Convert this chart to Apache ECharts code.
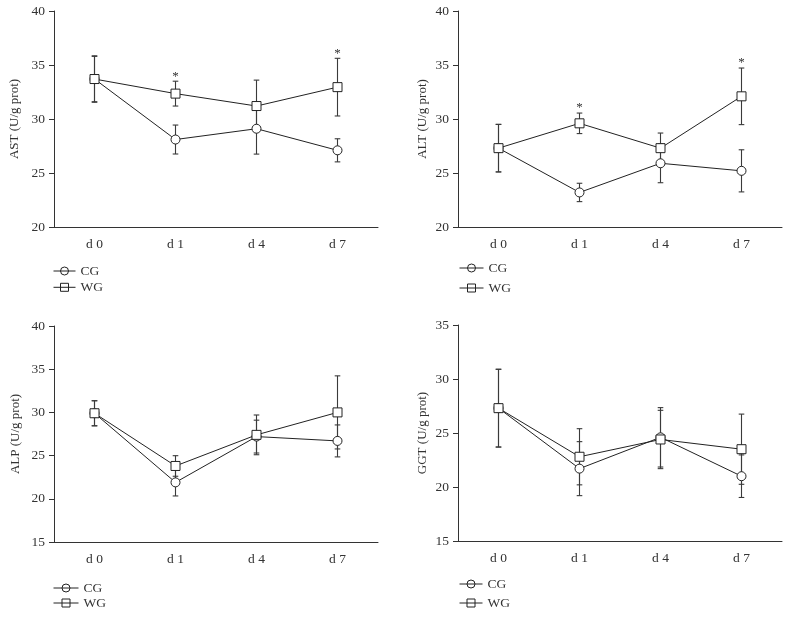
<!DOCTYPE html>
<html><head><meta charset="utf-8">
<script src="https://cdn.jsdelivr.net/npm/echarts@6/dist/echarts.min.js"></script>
<style>html,body{margin:0;padding:0;background:#fff}#c{width:791px;height:617px}</style>
</head><body><div id="c"></div>
<script>
// ---- data ----
const categories = ['d 0', 'd 1', 'd 4', 'd 7'];
const groupNames = ['CG', 'WG'];

const astCG = [33.7, 28.1, 29.1, 27.1];
const astCGErr = [2.1, 1.34, 2.35, 1.07];
const astWG = [33.7, 32.35, 31.2, 32.95];
const astWGErr = [2.15, 1.15, 2.4, 2.67];
const astSig = [0, 1, 0, 1];

const altCG = [27.3, 23.2, 25.9, 25.2];
const altCGErr = [2.2, 0.85, 1.8, 1.95];
const altWG = [27.3, 29.6, 27.3, 32.1];
const altWGErr = [2.2, 0.95, 1.4, 2.62];
const altSig = [0, 1, 0, 1];

const alpCG = [29.9, 21.9, 27.2, 26.7];
const alpCGErr = [1.45, 1.57, 1.9, 1.85];
const alpWG = [29.9, 23.8, 27.4, 30.0];
const alpWGErr = [1.45, 1.19, 2.3, 4.23];
const alpSig = [0, 0, 0, 0];

const ggtCG = [27.3, 21.7, 24.6, 21.0];
const ggtCGErr = [3.6, 2.5, 2.75, 1.97];
const ggtWG = [27.3, 22.8, 24.4, 23.5];
const ggtWGErr = [3.6, 2.6, 2.7, 3.25];
const ggtSig = [0, 0, 0, 0];

const yTitles = ['AST (U/g prot)', 'ALT (U/g prot)', 'ALP (U/g prot)', 'GGT (U/g prot)'];
const yMins = [20, 20, 15, 15];
const yMaxs = [40, 40, 40, 35];

const panels = [
  {cg: astCG, cgE: astCGErr, wg: astWG, wgE: astWGErr, sig: astSig},
  {cg: altCG, cgE: altCGErr, wg: altWG, wgE: altWGErr, sig: altSig},
  {cg: alpCG, cgE: alpCGErr, wg: alpWG, wgE: alpWGErr, sig: alpSig},
  {cg: ggtCG, cgE: ggtCGErr, wg: ggtWG, wgE: ggtWGErr, sig: ggtSig}
];

// ---- layout / style ----
const FONT = 'Liberation Serif';
const TXT = '#333';
const AX = '#333';
const grids = [
  {left: 54, top: 11, width: 324, height: 216},
  {left: 458, top: 11, width: 324, height: 216},
  {left: 54, top: 326, width: 324, height: 216},
  {left: 458, top: 325, width: 324, height: 216}
];
const nameGaps = [33, 29, 32, 29];
const legendPos = [
  {left: 53, top: 264, itemGap: 2.3, itemWidth: 22},
  {left: 459, top: 261, itemGap: 6, itemWidth: 24},
  {left: 53, top: 581, itemGap: 1, itemWidth: 25},
  {left: 459, top: 577, itemGap: 5, itemWidth: 23}
];

function errRender(params, api) {
  const x = api.value(0), v = api.value(1), e = api.value(2);
  const hi = api.coord([x, v + e]);
  const lo = api.coord([x, v - e]);
  const cap = 2.8;
  const style = {stroke: '#3a3a3a', lineWidth: 1.1};
  return {type: 'group', children: [
    {type: 'line', shape: {x1: hi[0], y1: hi[1], x2: lo[0], y2: lo[1]}, style: style},
    {type: 'line', shape: {x1: hi[0] - cap, y1: hi[1], x2: hi[0] + cap, y2: hi[1]}, style: style},
    {type: 'line', shape: {x1: lo[0] - cap, y1: lo[1], x2: lo[0] + cap, y2: lo[1]}, style: style}
  ]};
}
function starRender(params, api) {
  const p = api.coord([api.value(0), api.value(1)]);
  return {type: 'text', x: p[0], y: p[1] - 5,
    style: {text: '*', fill: TXT, font: '13px "' + FONT + '"', textAlign: 'center', textVerticalAlign: 'middle'}};
}

const xAxes = [], yAxes = [], series = [], legends = [];
panels.forEach(function (pn, i) {
  xAxes.push({
    type: 'category', gridIndex: i, data: categories, boundaryGap: true,
    axisLine: {lineStyle: {color: AX, width: 1}},
    axisTick: {alignWithLabel: true, length: 6, lineStyle: {color: AX}},
    axisLabel: {color: TXT, fontFamily: FONT, fontSize: 13.5, margin: 10},
    splitLine: {show: false}
  });
  yAxes.push({
    type: 'value', gridIndex: i, min: yMins[i], max: yMaxs[i], interval: 5,
    name: yTitles[i], nameLocation: 'middle', nameGap: nameGaps[i],
    nameTextStyle: {color: TXT, fontFamily: FONT, fontSize: 13},
    axisLine: {show: true, lineStyle: {color: AX, width: 1}},
    axisTick: {show: true, length: 5, lineStyle: {color: AX}},
    axisLabel: {color: TXT, fontFamily: FONT, fontSize: 13.5, margin: 9},
    splitLine: {show: false}
  });
  const groups = [[pn.cg, pn.cgE, 'circle'], [pn.wg, pn.wgE, 'rect']];
  groups.forEach(function (g, k) {
    series.push({
      type: 'custom', name: groupNames[k] + ' err ' + i, xAxisIndex: i, yAxisIndex: i,
      renderItem: errRender, z: 1, silent: true,
      encode: {x: 0, y: 1},
      data: g[0].map(function (v, j) { return [j, v, g[1][j]]; })
    });
  });
  groups.forEach(function (g, k) {
    series.push({
      type: 'line', name: groupNames[k], xAxisIndex: i, yAxisIndex: i, z: 3,
      data: g[0], symbol: g[2], symbolSize: 9, showAllSymbol: true,
      lineStyle: {color: '#222', width: 1},
      itemStyle: {color: '#fff', borderColor: '#222', borderWidth: 1},
      emphasis: {disabled: true}, animation: false
    });
  });
  const starData = [];
  pn.sig.forEach(function (s, j) { if (s) starData.push([j, pn.wg[j] + pn.wgE[j]]); });
  series.push({
    type: 'custom', name: 'sig ' + i, xAxisIndex: i, yAxisIndex: i, z: 4, silent: true,
    renderItem: starRender, encode: {x: 0, y: 1}, data: starData
  });
  legends.push({
    data: groupNames, orient: 'vertical', left: legendPos[i].left, top: legendPos[i].top,
    itemGap: legendPos[i].itemGap, itemWidth: legendPos[i].itemWidth, itemHeight: 10,
    selectedMode: false, padding: 0,
    textStyle: {color: TXT, fontFamily: FONT, fontSize: 13.5},
    itemStyle: {color: 'transparent', borderColor: '#222', borderWidth: 1},
    lineStyle: {color: '#222', width: 1}
  });
});

const chart = echarts.init(document.getElementById('c'), null, {renderer: 'canvas'});
chart.setOption({
  animation: false,
  backgroundColor: '#fff',
  grid: grids,
  xAxis: xAxes,
  yAxis: yAxes,
  legend: legends,
  series: series
});
</script></body></html>
